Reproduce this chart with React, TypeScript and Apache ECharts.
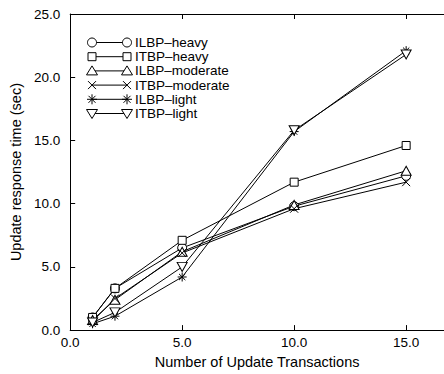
import React, { useEffect, useRef } from "react";
import * as echarts from "echarts";

const xValues = [1, 2, 5, 10, 15];
const seriesNames = ["ILBP\u2013heavy", "ITBP\u2013heavy", "ILBP\u2013moderate", "ITBP\u2013moderate", "ILBP\u2013light", "ITBP\u2013light"];
const ilbpHeavy = [1.0, 3.3, 6.5, 9.8, 12.2];
const itbpHeavy = [1.0, 3.3, 7.1, 11.7, 14.6];
const ilbpModerate = [0.8, 2.4, 6.2, 9.9, 12.6];
const itbpModerate = [0.7, 2.5, 6.1, 9.6, 11.7];
const ilbpLight = [0.5, 1.1, 4.2, 15.7, 22.1];
const itbpLight = [0.6, 1.4, 5.0, 15.8, 21.8];
const seriesValues = [ilbpHeavy, itbpHeavy, ilbpModerate, itbpModerate, ilbpLight, itbpLight];

const FONT = "'Liberation Sans', Arial, Helvetica, sans-serif";
const CIRCLE_PATH = "path://M5,0A5,5,0,1,1,5,10A5,5,0,1,1,5,0Z";
const RECT_PATH = "path://M0,0L10,0L10,10L0,10Z";
const TRI_PATH = "path://M5,0L10,9L0,9Z";
const TRI_DOWN_PATH = "path://M0,0L10,0L5,9Z";
const X_PATH = "path://M0,0L10,10M10,0L0,10";
const STAR_PATH = "path://M5,0L5,10M0,5L10,5M1.5,1.5L8.5,8.5M8.5,1.5L1.5,8.5";

const symbols: any[] = [
  { symbol: CIRCLE_PATH, size: [9, 9] },
  { symbol: RECT_PATH, size: [8, 8] },
  { symbol: TRI_PATH, size: [10, 9] },
  { symbol: X_PATH, size: [8, 8] },
  { symbol: STAR_PATH, size: [9, 9] },
  { symbol: TRI_DOWN_PATH, size: [10, 9] },
];

function legendSymbol(kind: number, cx: number, cy: number): any[] {
  const st = { fill: "#fff", stroke: "#000", lineWidth: 1 };
  const ls = { stroke: "#000", lineWidth: 1 };
  switch (kind) {
    case 0:
      return [{ type: "circle", shape: { cx, cy, r: 4.5 }, style: st }];
    case 1:
      return [{ type: "rect", shape: { x: cx - 4, y: cy - 4, width: 8, height: 8 }, style: st }];
    case 2:
      return [{ type: "polygon", shape: { points: [[cx, cy - 5], [cx - 5.5, cy + 4], [cx + 5.5, cy + 4]] }, style: st }];
    case 3:
      return [
        { type: "line", shape: { x1: cx - 4, y1: cy - 4, x2: cx + 4, y2: cy + 4 }, style: ls },
        { type: "line", shape: { x1: cx + 4, y1: cy - 4, x2: cx - 4, y2: cy + 4 }, style: ls },
      ];
    case 4:
      return [
        { type: "line", shape: { x1: cx, y1: cy - 5, x2: cx, y2: cy + 5 }, style: ls },
        { type: "line", shape: { x1: cx - 5, y1: cy, x2: cx + 5, y2: cy }, style: ls },
        { type: "line", shape: { x1: cx - 3.5, y1: cy - 3.5, x2: cx + 3.5, y2: cy + 3.5 }, style: ls },
        { type: "line", shape: { x1: cx + 3.5, y1: cy - 3.5, x2: cx - 3.5, y2: cy + 3.5 }, style: ls },
      ];
    default:
      return [{ type: "polygon", shape: { points: [[cx - 5.5, cy - 4], [cx + 5.5, cy - 4], [cx, cy + 5]] }, style: st }];
  }
}

export default function App() {
  const ref = useRef<HTMLDivElement>(null);
  useEffect(() => {
    if (!ref.current) return;
    const chart = echarts.init(ref.current, null, { renderer: "svg" });

    const legendEls: any[] = [];
    seriesNames.forEach((name, i) => {
      const y = 42.5 + 14.2 * i;
      legendEls.push({ type: "line", shape: { x1: 92, y1: y, x2: 127, y2: y }, style: { stroke: "#000", lineWidth: 1 } });
      legendEls.push(...legendSymbol(i, 92, y));
      legendEls.push(...legendSymbol(i, 127, y));
      legendEls.push({
        type: "text",
        x: 135,
        y,
        style: { text: name, fontFamily: FONT, fontSize: 13.5, fill: "#000", verticalAlign: "middle", align: "left" },
      });
    });

    const axisCommon = {
      type: "value",
      axisLine: { show: true, lineStyle: { color: "#000", width: 1 } },
      axisTick: { show: true, inside: true, length: 5, lineStyle: { color: "#000" } },
      splitLine: { show: false },
    };

    chart.setOption({
      animation: false,
      backgroundColor: "#fff",
      grid: { left: 68, top: 14, right: 0, bottom: 42, containLabel: false },
      xAxis: [
        {
          ...axisCommon,
          min: 0,
          max: 16.69,
          interval: 5,
          name: "Number of Update Transactions",
          nameLocation: "middle",
          nameGap: 23,
          nameTextStyle: { fontFamily: FONT, fontSize: 14.5, color: "#000" },
          axisLabel: {
            showMaxLabel: false,
            margin: 5,
            fontFamily: FONT,
            fontSize: 13.5,
            color: "#000",
            formatter: (v: number) => v.toFixed(1),
          },
        },
        {
          ...axisCommon,
          position: "top",
          min: 0,
          max: 16.69,
          interval: 5,
          axisLabel: { show: false },
        },
      ],
      yAxis: [
        {
          ...axisCommon,
          min: 0,
          max: 25,
          interval: 5,
          name: "Update response time (sec)",
          nameLocation: "middle",
          nameGap: 45,
          nameTextStyle: { fontFamily: FONT, fontSize: 14.5, color: "#000" },
          axisLabel: {
            margin: 10,
            fontFamily: FONT,
            fontSize: 13.5,
            color: "#000",
            formatter: (v: number) => v.toFixed(1),
          },
        },
      ],
      series: seriesNames.map((name, i) => ({
        name,
        type: "line",
        xAxisIndex: 0,
        yAxisIndex: 0,
        data: xValues.map((x, j) => [x, seriesValues[i][j]]),
        symbol: symbols[i].symbol,
        symbolSize: symbols[i].size,
        showAllSymbol: true,
        lineStyle: { color: "#000", width: 1 },
        itemStyle: { color: "#fff", borderColor: "#000", borderWidth: 1, opacity: 1 },
        z: 2,
      })),
      graphic: legendEls,
    });
    return () => chart.dispose();
  }, []);
  return <div ref={ref} style={{ position: "fixed", left: 0, top: 0, width: 444, height: 374 }} />;
}
